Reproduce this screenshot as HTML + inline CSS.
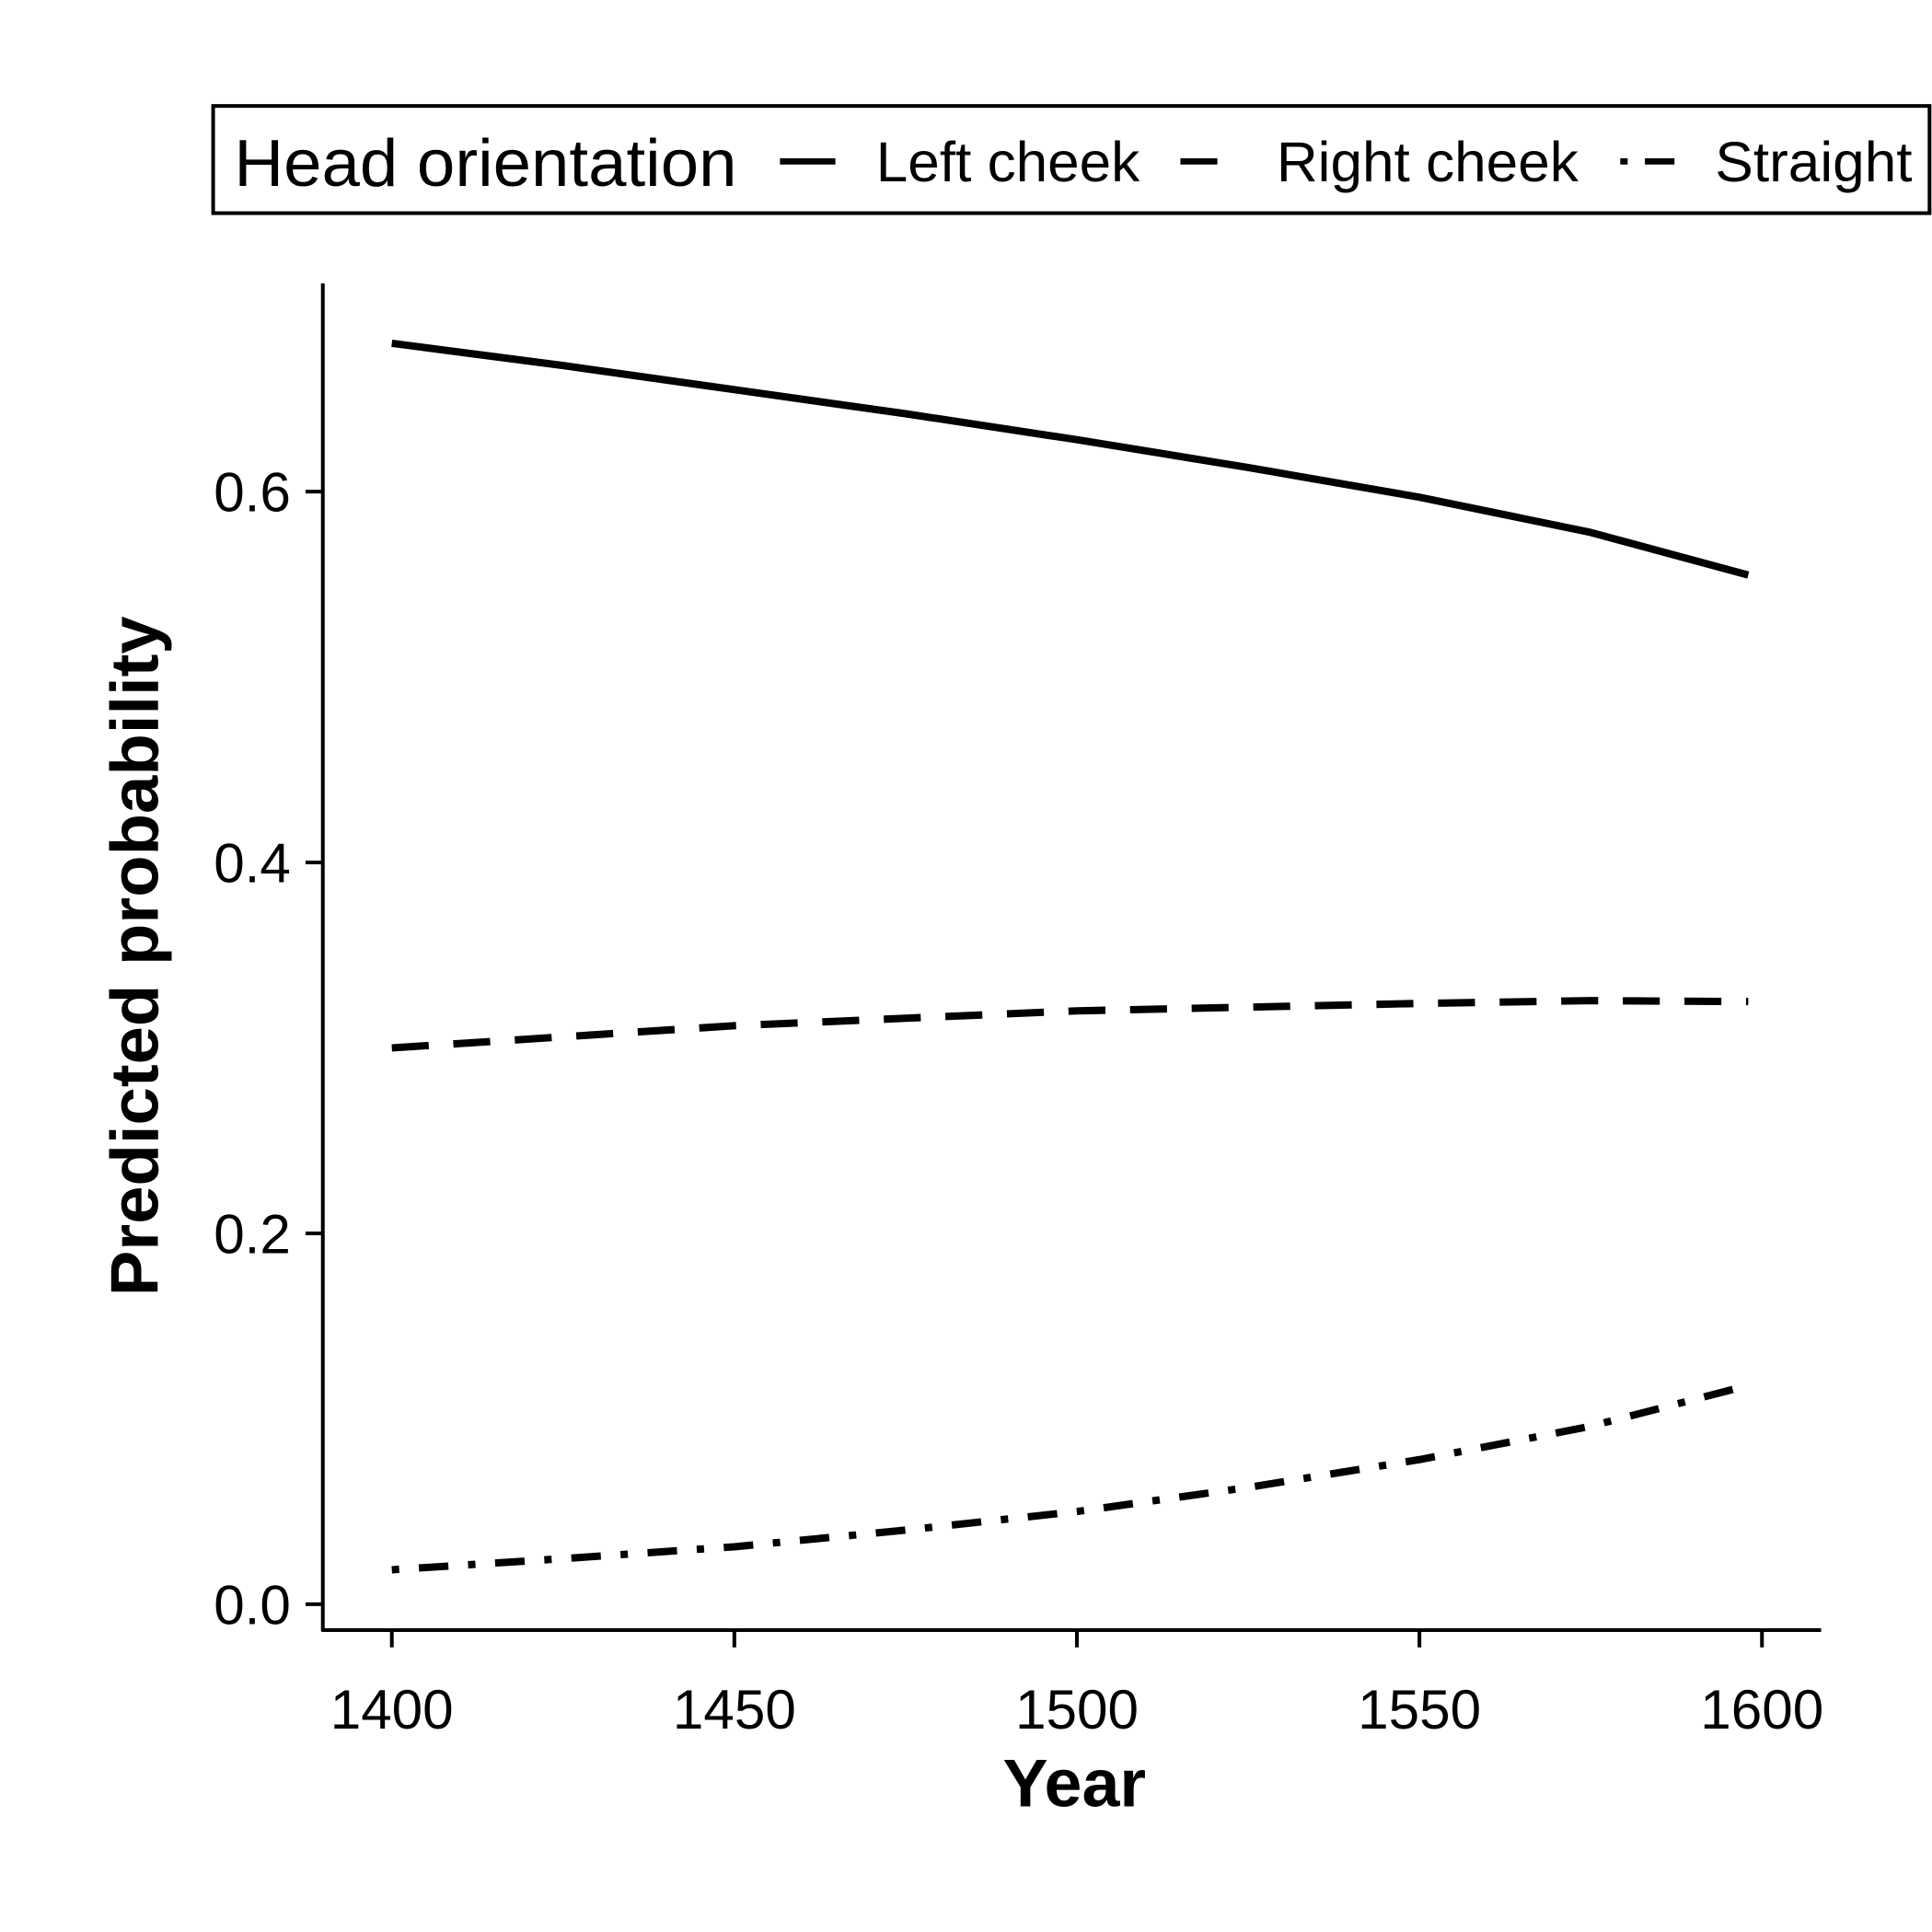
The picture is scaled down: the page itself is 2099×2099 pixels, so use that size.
<!DOCTYPE html>
<html><head><meta charset="utf-8"><style>
html,body{margin:0;padding:0;background:#fff;}
svg{display:block;font-family:"Liberation Sans",Arial,sans-serif;}
</style></head><body>
<svg id="chart" width="2099" height="2099" viewBox="0 0 1568 1568" xmlns="http://www.w3.org/2000/svg">
<g>
<rect x="173" y="86" width="1393" height="87" fill="#fff" stroke="#000" stroke-width="3"/>
<text x="190" y="151" font-size="54" textLength="408" lengthAdjust="spacingAndGlyphs">Head orientation</text>
<line x1="633" y1="131" x2="678" y2="131" stroke="#000" stroke-width="5"/>
<text x="711" y="147" font-size="46" textLength="214" lengthAdjust="spacingAndGlyphs">Left cheek</text>
<line x1="958" y1="131" x2="988" y2="131" stroke="#000" stroke-width="5"/>
<text x="1036" y="147" font-size="46" textLength="245" lengthAdjust="spacingAndGlyphs">Right cheek</text>
<line x1="1315" y1="131" x2="1362" y2="131" stroke="#000" stroke-width="5" stroke-dasharray="6 14 24 14"/>
<text x="1392" y="147" font-size="46" textLength="160" lengthAdjust="spacingAndGlyphs">Straight</text>
</g>
<line x1="262" y1="230" x2="262" y2="1324" stroke="#000" stroke-width="3"/>
<line x1="261" y1="1323" x2="1478" y2="1323" stroke="#000" stroke-width="3"/>
<g id="ticks"></g>
<g id="series"></g>
<text x="872" y="1466" font-size="55" font-weight="bold" text-anchor="middle">Year</text>
<text transform="translate(128,776) rotate(-90)" font-size="55" font-weight="bold" text-anchor="middle" textLength="552" lengthAdjust="spacingAndGlyphs">Predicted probability</text>
</svg>
<script>
const years = [1400,1425,1450,1475,1500,1525,1550,1575,1598];
const leftCheek = [0.680,0.668,0.655,0.642,0.628,0.613,0.597,0.578,0.555];
const rightCheek = [0.300,0.306,0.312,0.316,0.320,0.322,0.324,0.3255,0.325];
const straight = [0.0186,0.0246,0.031,0.040,0.050,0.063,0.078,0.096,0.118];
const xTicks = [1400,1450,1500,1550,1600];
const yTicks = [0.0,0.2,0.4,0.6];
const yTickLabels = ["0.0","0.2","0.4","0.6"];

const NS="http://www.w3.org/2000/svg";
function xs(v){return 318+(v-1400)*(1430-318)/200;}
function ys(v){return 1302-v*(1302-399)/0.6;}
const tg=document.getElementById('ticks');
xTicks.forEach(t=>{
  const l=document.createElementNS(NS,'line');
  l.setAttribute('x1',xs(t));l.setAttribute('x2',xs(t));l.setAttribute('y1',1323);l.setAttribute('y2',1337);
  l.setAttribute('stroke','#000');l.setAttribute('stroke-width','3');
  
  
  tg.appendChild(l);
  const tx=document.createElementNS(NS,'text');
  tx.setAttribute('x',xs(t));tx.setAttribute('y',1403);tx.setAttribute('font-size','45');tx.setAttribute('text-anchor','middle');
  tx.textContent=t;
  
  
  tg.appendChild(tx);
});
yTicks.forEach((t,i)=>{
  const l=document.createElementNS(NS,'line');
  l.setAttribute('x1',248);l.setAttribute('x2',262);l.setAttribute('y1',ys(t));l.setAttribute('y2',ys(t));
  l.setAttribute('stroke','#000');l.setAttribute('stroke-width','3');
  
  
  tg.appendChild(l);
  const tx=document.createElementNS(NS,'text');
  tx.setAttribute('x',236);tx.setAttribute('y',ys(t)+16);tx.setAttribute('font-size','45');tx.setAttribute('text-anchor','end');
  tx.textContent=yTickLabels[i];
  
  
  tg.appendChild(tx);
});
const sg=document.getElementById('series');
function draw(vals,dash,name){
  const p=document.createElementNS(NS,'polyline');
  p.setAttribute('points',years.map((y,i)=>xs(y)+','+ys(vals[i])).join(' '));
  p.setAttribute('fill','none');p.setAttribute('stroke','#000');p.setAttribute('stroke-width','6');
  p.setAttribute('stroke-linejoin','round');
  if(dash)p.setAttribute('stroke-dasharray',dash);
  
  
  sg.appendChild(p);
}
draw(leftCheek,null,'left-cheek-line');
draw(rightCheek,'30 20','right-cheek-line');
draw(straight,'6 16 24 16','straight-line');
</script>
</body></html>
